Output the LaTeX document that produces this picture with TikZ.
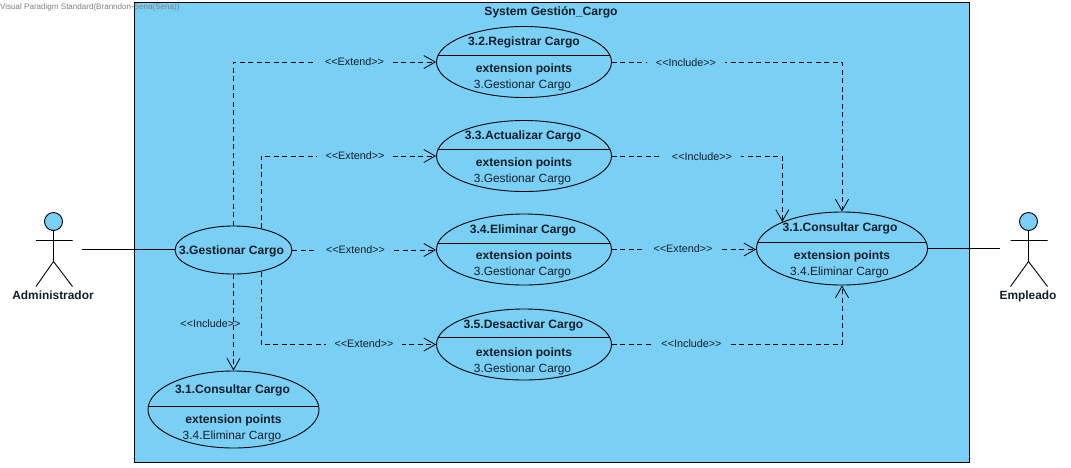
\documentclass[tikz,border=0pt]{standalone}
\usepackage{fontspec}
\setmainfont{Liberation Sans}
\usetikzlibrary{shapes.geometric,arrows.meta,calc}
\definecolor{sysblue}{RGB}{122,207,245}
\definecolor{inktext}{RGB}{20,30,40}
\tikzset{
  x=1pt,y=-1pt,
  line/.style={draw=black,line width=0.9pt},
  system/.style={draw=black,line width=1pt,fill=sysblue},
  usecase/.style={ellipse,draw=black,line width=0.9pt,fill=sysblue,inner sep=0pt,minimum width=175pt,minimum height=71pt},
  divider/.style={path picture={\draw[line width=0.9pt] ([yshift=#1]path picture bounding box.west) -- ([yshift=#1]path picture bounding box.east);}},
  dep/.style={draw=black,line width=0.7pt,dash pattern=on 5pt off 3.5pt,-{Straight Barb[length=11.5pt,width=13pt,line width=0.8pt]}},
  deplabel/.style={font=\fontsize{10.8}{12}\selectfont,text=inktext,inner xsep=9pt,inner ysep=1.5pt,fill=sysblue,text height=7.8pt,text depth=0pt},
  deplabelfree/.style={font=\fontsize{10.8}{12}\selectfont,text=inktext,inner sep=0pt,text height=7.8pt,text depth=0pt},
  title/.style={font=\fontsize{12.1}{13}\selectfont\bfseries,text=inktext,inner sep=0pt,text height=8.6pt,text depth=0pt},
  extpt/.style={font=\fontsize{11.9}{13}\selectfont,text=inktext,inner sep=0pt,text height=8.6pt,text depth=0pt,xshift=-1.5pt},
  actorhead/.style={circle,draw=black,line width=0.9pt,fill=sysblue,inner sep=0pt,minimum size=18pt},
  actorname/.style={font=\fontsize{11.9}{13}\selectfont\bfseries,text=inktext,inner sep=0pt,text height=8.6pt,text depth=0pt},
  mark text/.style={font=\fontsize{8.05}{9}\selectfont,text=black!50,inner sep=0pt,anchor=west},
}
\begin{document}
\begin{tikzpicture}
\useasboundingbox (0,0) rectangle (1071,467);
\fill[white] (0,0) rectangle (1071,467);
\draw[system] (134.5,2.5) rectangle (969.5,462);
\node[title] (systitle) at (551,11) {System Gestión\_Cargo};
\node[mark text] (watermark) at (0,7) {Visual Paradigm Standard(Branndon-Sena(Sena))};

% use cases
\node[usecase,divider=7pt] (reg) at (524,62) {};
\node[title] (regt) at (524,41) {3.2.Registrar Cargo};
\node[title] (rege) at (524,68) {extension points};
\node[extpt] (regp) at (524,84) {3.Gestionar Cargo};

\node[usecase,divider=7pt] (act) at (524,156) {};
\node[title] (actt) at (523,135) {3.3.Actualizar Cargo};
\node[title] (acte) at (524,162) {extension points};
\node[extpt] (actp) at (524,178) {3.Gestionar Cargo};

\node[usecase,divider=6.5pt] (eli) at (524,249.5) {};
\node[title] (elit) at (523,229) {3.4.Eliminar Cargo};
\node[title] (elie) at (524,255) {extension points};
\node[extpt] (elip) at (524,271) {3.Gestionar Cargo};

\node[usecase,divider=7pt] (des) at (524,344.5) {};
\node[title] (dest) at (523.5,324) {3.5.Desactivar Cargo};
\node[title] (dese) at (524,352) {extension points};
\node[extpt] (desp) at (524,368) {3.Gestionar Cargo};

\node[usecase,minimum width=171pt,minimum height=73pt,divider=6pt] (con) at (842,248.5) {};
\node[title] (cont) at (840,227) {3.1.Consultar Cargo};
\node[title] (cone) at (842,255) {extension points};
\node[extpt] (conp) at (841,271) {3.4.Eliminar Cargo};

\node[usecase,minimum width=171pt,minimum height=77pt,divider=3pt] (cob) at (233.5,409.5) {};
\node[title] (cobt) at (232.5,389) {3.1.Consultar Cargo};
\node[title] (cobe) at (233.5,419) {extension points};
\node[extpt] (cobp) at (233.5,435) {3.4.Eliminar Cargo};

\node[usecase,minimum width=117pt,minimum height=48pt] (ges) at (233.5,250) {};
\node[title] (gest) at (231.5,250) {3.Gestionar Cargo};

% actors
\node[actorhead] (adm) at (53.5,221.5) {};
\coordinate (admhip) at (53.5,261.5);
\coordinate (admla) at (36,240.5);
\coordinate (admra) at (72.5,240.5);
\coordinate (admll) at (36,286.5);
\coordinate (admrl) at (72.5,286.5);
\coordinate (admend) at (81.5,249.5);
\draw[line] (adm.south) -- (admhip) (admla) -- (admra) (admll) -- (admhip) -- (admrl);
\node[actorname] (admn) at (53,295) {Administrador};

\node[actorhead] (emp) at (1028.5,221.5) {};
\coordinate (emphip) at (1028.5,261.5);
\coordinate (empla) at (1010.5,240.5);
\coordinate (empra) at (1047.5,240.5);
\coordinate (empll) at (1010.5,286.5);
\coordinate (emprl) at (1047.5,286.5);
\coordinate (empend) at (999.5,248.5);
\draw[line] (emp.south) -- (emphip) (empla) -- (empra) (empll) -- (emphip) -- (emprl);
\node[actorname] (empn) at (1028,295) {Empleado};

% associations
\draw[line] (admend) -- (admend -| ges.west);
\draw[line] (con.east) -- (empend);

% dependencies
\draw[dep] (ges.north) |- (reg.west);
\draw[dep] (ges.38) |- (act.west);
\draw[dep] (ges.east) -- (ges.east -| eli.west);
\draw[dep] (ges.-38) |- (des.west);
\draw[dep] (ges.south) -- (cob.north);
\draw[dep] (reg.east) -| (con.north);
\draw[dep] (act.east) -| (con.156.6);
\draw[dep] (eli.east) -- (eli.east -| con.west);
\draw[dep] (des.east) -| (con.south);

% dependency labels
\node[deplabel] (l1) at (354.5,61.5) {<{}<Extend>{}>};
\node[deplabel] (l2) at (355,155.5) {<{}<Extend>{}>};
\node[deplabel] (l3) at (355.5,250) {<{}<Extend>{}>};
\node[deplabel] (l4) at (364,344) {<{}<Extend>{}>};
\node[deplabel] (l5) at (686,63) {<{}<Include>{}>};
\node[deplabel] (l6) at (702,157) {<{}<Include>{}>};
\node[deplabel] (l7) at (683,248.5) {<{}<Extend>{}>};
\node[deplabel] (l8) at (691.5,344) {<{}<Include>{}>};
\node[deplabelfree] (l9) at (210.5,324) {<{}<Include>{}>};
\end{tikzpicture}
\end{document}
